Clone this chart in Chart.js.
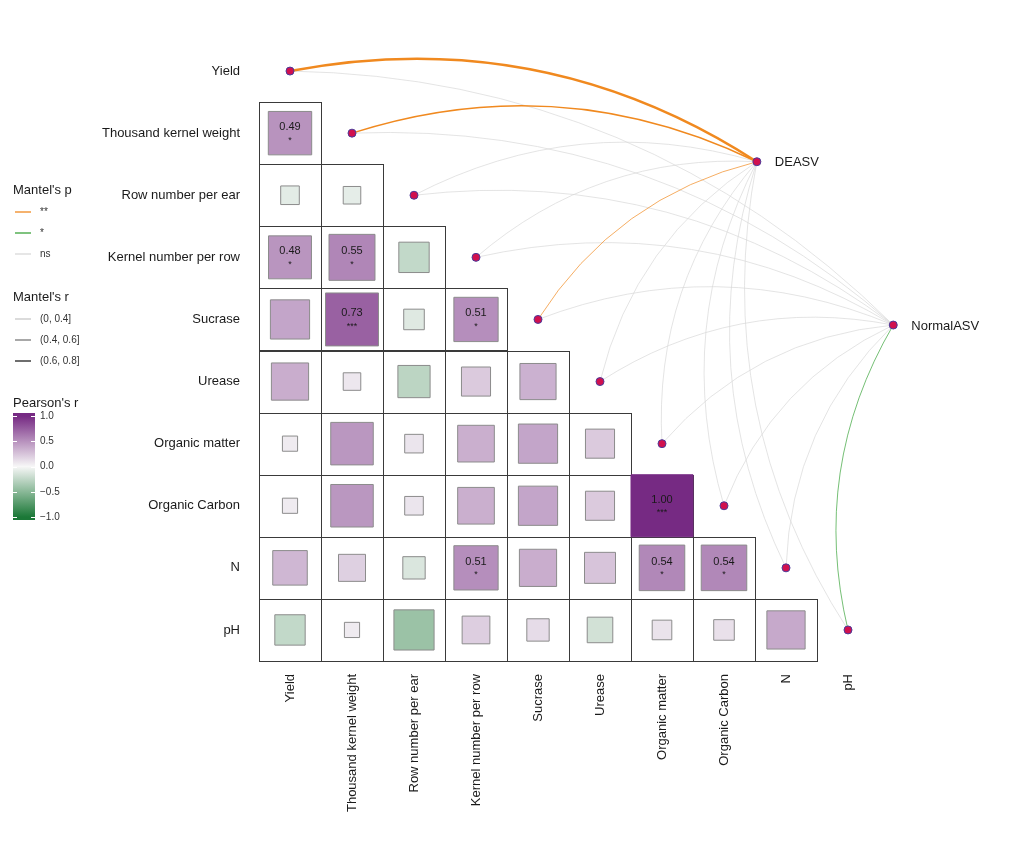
<!DOCTYPE html>
<html>
<head>
<meta charset="utf-8">
<script src="https://cdn.jsdelivr.net/npm/chart.js@4/dist/chart.umd.min.js"></script>
<style>
  body { margin: 0; background: #fff; }
  canvas { display: block; }
</style>
</head>
<body>
<canvas id="corChart" width="1024" height="853"></canvas>
<script>
const FONT = "'Liberation Sans', Arial, sans-serif";

// matrix variables (rows top->bottom, columns left->right)
const varNames = ['Yield', 'Thousand kernel weight', 'Row number per ear', 'Kernel number per row',
  'Sucrase', 'Urease', 'Organic matter', 'Organic Carbon', 'N', 'pH'];

// Pearson's r, lower triangle, one array per row
const rTKW       = [0.49];
const rRowNum    = [-0.09, -0.08];
const rKernelNum = [0.48, 0.55, -0.24];
const rSucrase   = [0.40, 0.73, -0.11, 0.51];
const rUrease    = [0.36, 0.08, -0.27, 0.22, 0.34];
const rOM        = [0.06, 0.47, 0.09, 0.35, 0.40, 0.22];
const rOC        = [0.06, 0.47, 0.09, 0.35, 0.40, 0.22, 1.00];
const rN         = [0.31, 0.19, -0.13, 0.51, 0.36, 0.25, 0.54, 0.54];
const rPH        = [-0.24, 0.06, -0.42, 0.20, 0.13, -0.17, 0.10, 0.11, 0.38];

// significance stars (only the labelled cells)
const sTKW       = ['*'];
const sRowNum    = ['', ''];
const sKernelNum = ['*', '*', ''];
const sSucrase   = ['', '***', '', '*'];
const sUrease    = ['', '', '', '', ''];
const sOM        = ['', '', '', '', '', ''];
const sOC        = ['', '', '', '', '', '', '***'];
const sN         = ['', '', '', '*', '', '', '*', '*'];
const sPH        = ['', '', '', '', '', '', '', '', ''];

// Mantel test links
const linkNodes = ['DEASV', 'NormalASV'];
const nodeX = [7.53, 9.73];
const nodeY = [1.46, 4.09];
const deasvP = ['**', '**', 'ns', 'ns', '**', 'ns', 'ns', 'ns', 'ns', 'ns'];
const deasvR = ['(0.6, 0.8]', '(0.4, 0.6]', '(0, 0.4]', '(0, 0.4]', '(0, 0.4]',
  '(0, 0.4]', '(0, 0.4]', '(0, 0.4]', '(0, 0.4]', '(0, 0.4]'];
const normalP = ['ns', 'ns', 'ns', 'ns', 'ns', 'ns', 'ns', 'ns', 'ns', '*'];
const normalR = ['(0, 0.4]', '(0, 0.4]', '(0, 0.4]', '(0, 0.4]', '(0, 0.4]',
  '(0, 0.4]', '(0, 0.4]', '(0, 0.4]', '(0, 0.4]', '(0, 0.4]'];

// legend entries
const pLevels = ['**', '*', 'ns'];
const rLevels = ['(0, 0.4]', '(0.4, 0.6]', '(0.6, 0.8]'];
const cbTicks = [1, 0.5, 0, -0.5, -1];

const pColours = { '**': '#F0891F', '*': '#3AA33A', 'ns': '#D9D9D9' };
const rWidths = { '(0, 0.4]': 0.7, '(0.4, 0.6]': 1.5, '(0.6, 0.8]': 2.4 };

const rRows = [[], rTKW, rRowNum, rKernelNum, rSucrase, rUrease, rOM, rOC, rN, rPH];
const sRows = [[], sTKW, sRowNum, sKernelNum, sSucrase, sUrease, sOM, sOC, sN, sPH];

const cells = [];
rRows.forEach((vals, i) => vals.forEach((v, j) => cells.push({ x: j, y: i, v: v, s: sRows[i][j] })));
const dots = varNames.map((_, i) => ({ x: i, y: i }))
  .concat(linkNodes.map((_, k) => ({ x: nodeX[k], y: nodeY[k] })));

function pearsonColour(v) {
  const mid = [247, 247, 247], hi = [118, 42, 131], lo = [27, 120, 55];
  const end = v >= 0 ? hi : lo;
  const t = Math.min(1, Math.abs(v));
  const c = mid.map((m, k) => Math.round(m + (end[k] - m) * t));
  return `rgb(${c[0]},${c[1]},${c[2]})`;
}

function unitPx(chart) {
  const xs = chart.scales.x;
  return Math.abs(xs.getPixelForValue(1) - xs.getPixelForValue(0));
}

function drawLink(ctx, x0, y0, x1, y1, colour, width) {
  const dx = x1 - x0, dy = y1 - y0;
  const cx = (x0 + x1) / 2 + 0.2 * dy, cy = (y0 + y1) / 2 - 0.2 * dx;
  ctx.beginPath();
  ctx.moveTo(x0, y0);
  ctx.quadraticCurveTo(cx, cy, x1, y1);
  ctx.strokeStyle = colour;
  ctx.lineWidth = width;
  ctx.stroke();
}

const mantelDecor = {
  id: 'mantelDecor',
  beforeDatasetsDraw(chart) {
    const { ctx, scales: { x, y } } = chart;
    const u = unitPx(chart);
    ctx.save();
    // staircase grid
    ctx.strokeStyle = '#3a3a3a';
    ctx.lineWidth = 1;
    rRows.forEach((vals, i) => vals.forEach((_, j) => {
      const px = Math.round(x.getPixelForValue(j) - u / 2) + 0.5;
      const py = Math.round(y.getPixelForValue(i) - u / 2) + 0.5;
      ctx.strokeRect(px, py, Math.round(u), Math.round(u));
    }));
    // links: grey ones first, coloured on top
    const links = [];
    [deasvP, normalP].forEach((pArr, k) => pArr.forEach((p, i) => {
      links.push({ k: k, i: i, p: p, r: (k === 0 ? deasvR : normalR)[i] });
    }));
    links.sort((a, b) => (a.p === 'ns' ? 0 : 1) - (b.p === 'ns' ? 0 : 1));
    links.forEach(l => {
      drawLink(ctx, x.getPixelForValue(l.i), y.getPixelForValue(l.i),
        x.getPixelForValue(nodeX[l.k]), y.getPixelForValue(nodeY[l.k]),
        pColours[l.p], l.p === 'ns' ? 0.7 : rWidths[l.r]);
    });
    ctx.restore();
  },
  afterDatasetsDraw(chart) {
    const { ctx, scales: { x, y } } = chart;
    ctx.save();
    ctx.fillStyle = '#1a1a1a';
    ctx.textAlign = 'center';
    ctx.textBaseline = 'middle';
    cells.filter(c => c.s).forEach(c => {
      const px = x.getPixelForValue(c.x), py = y.getPixelForValue(c.y);
      ctx.font = `11px ${FONT}`;
      ctx.fillText(c.v.toFixed(2), px, py - 6);
      ctx.font = `9px ${FONT}`;
      ctx.fillText(c.s, px, py + 7);
    });
    // node labels
    ctx.textAlign = 'left';
    ctx.font = `13px ${FONT}`;
    linkNodes.forEach((n, k) => {
      ctx.fillText(n, x.getPixelForValue(nodeX[k]) + 18, y.getPixelForValue(nodeY[k]) + 1);
    });
    ctx.restore();
  },
  afterDraw(chart) {
    const ctx = chart.ctx;
    ctx.save();
    ctx.textBaseline = 'middle';
    ctx.textAlign = 'left';
    ctx.fillStyle = '#1a1a1a';
    ctx.font = `13px ${FONT}`;
    ctx.fillText("Mantel's p", 13, 190);
    ctx.fillText("Mantel's r", 13, 297);
    ctx.fillText("Pearson's r", 13, 403);
    ctx.font = `10px ${FONT}`;
    pLevels.forEach((p, i) => {
      const yy = 212 + i * 21;
      ctx.beginPath(); ctx.moveTo(15, yy); ctx.lineTo(31, yy);
      ctx.strokeStyle = pColours[p]; ctx.lineWidth = 1.3; ctx.stroke();
      ctx.fillStyle = '#333'; ctx.fillText(p, 40, yy);
    });
    rLevels.forEach((r, i) => {
      const yy = 319 + i * 21;
      ctx.beginPath(); ctx.moveTo(15, yy); ctx.lineTo(31, yy);
      ctx.strokeStyle = '#6e6e6e'; ctx.lineWidth = [0.5, 1.2, 2][i]; ctx.stroke();
      ctx.fillStyle = '#333'; ctx.fillText(r, 40, yy);
    });
    // colour bar
    const top = 413, bot = 520, yOf = v => 466.5 - v * 50.5;
    const g = ctx.createLinearGradient(0, top, 0, bot);
    [1, 0.75, 0.5, 0.25, 0, -0.25, -0.5, -0.75, -1].forEach(v => {
      g.addColorStop((yOf(v) - top) / (bot - top), pearsonColour(v));
    });
    ctx.fillStyle = g;
    ctx.fillRect(13, top, 22, bot - top);
    ctx.strokeStyle = '#ffffff'; ctx.lineWidth = 1;
    cbTicks.forEach(v => {
      const yy = Math.round(yOf(v)) + 0.5;
      ctx.beginPath(); ctx.moveTo(13, yy); ctx.lineTo(17, yy); ctx.moveTo(31, yy); ctx.lineTo(35, yy); ctx.stroke();
      ctx.fillStyle = '#333';
      ctx.fillText(v.toFixed(1).replace('-', '\u2212'), 40, yOf(v));
    });
    ctx.restore();
  }
};

new Chart(document.getElementById('corChart'), {
  type: 'scatter',
  data: {
    datasets: [
      {
        data: dots,
        pointStyle: 'circle',
        pointRadius: 4,
        backgroundColor: '#D1104E',
        borderColor: '#4B3A9A',
        borderWidth: 1,
        clip: false
      },
      {
        data: cells,
        pointStyle: 'rect',
        pointRadius: ctx => ctx.raw ? Math.sqrt(Math.abs(ctx.raw.v)) * unitPx(ctx.chart) / Math.SQRT2 : 0,
        backgroundColor: ctx => ctx.raw ? pearsonColour(ctx.raw.v) : '#fff',
        borderColor: ctx => ctx.raw && ctx.raw.v === 1 ? pearsonColour(1) : '#8c8c8c',
        borderWidth: 1,
        clip: false
      }
    ]
  },
  options: {
    responsive: false,
    devicePixelRatio: 1,
    animation: false,
    events: [],
    layout: { padding: { top: 40, right: 114, bottom: 0, left: 0 } },
    plugins: { legend: { display: false }, tooltip: { enabled: false } },
    scales: {
      x: {
        type: 'linear', position: 'bottom', min: -0.5, max: 10,
        afterBuildTicks: s => { s.ticks = varNames.map((_, i) => ({ value: i })); },
        afterFit: s => { s.height = 192; },
        grid: { display: false, drawTicks: false, tickLength: 0 },
        border: { display: false },
        ticks: {
          autoSkip: false, minRotation: 90, maxRotation: 90, padding: 13,
          color: '#1a1a1a', font: { family: FONT, size: 13 },
          callback: v => varNames[v] ?? ''
        }
      },
      y: {
        type: 'linear', reverse: true, min: -0.5, max: 9.5,
        afterBuildTicks: s => { s.ticks = varNames.map((_, i) => ({ value: i })); },
        afterFit: s => { s.width = 259; },
        grid: { display: false, drawTicks: false, tickLength: 0 },
        border: { display: false },
        ticks: {
          autoSkip: false, padding: 19,
          color: '#1a1a1a', font: { family: FONT, size: 13 },
          callback: v => varNames[v] ?? ''
        }
      }
    }
  },
  plugins: [mantelDecor]
});
</script>
</body>
</html>
